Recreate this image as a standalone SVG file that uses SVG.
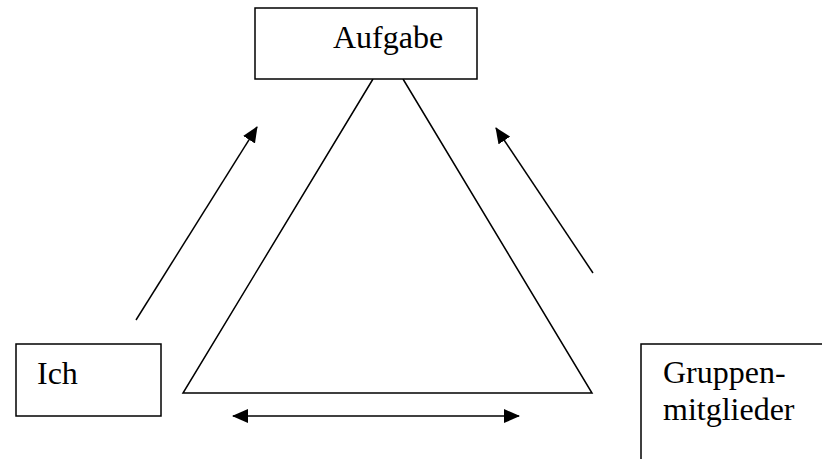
<svg xmlns="http://www.w3.org/2000/svg" width="822" height="459" viewBox="0 0 822 459">
<style>
.box{fill:#fff;stroke:#000;stroke-width:1.5}
.ln{stroke:#000;stroke-width:1.5;fill:none}
.t{font-family:"Liberation Serif","Times New Roman",serif;font-size:32px;fill:#000}
</style>
<defs>
<marker id="ah" viewBox="0 0 10 10" refX="9" refY="5" markerWidth="10" markerHeight="10" markerUnits="userSpaceOnUse" orient="auto-start-reverse">
<path d="M0,0 L10,5 L0,10 z" fill="#000"/>
</marker>
<marker id="ah2" viewBox="0 0 16 14" refX="15" refY="7" markerWidth="16" markerHeight="14" markerUnits="userSpaceOnUse" orient="auto-start-reverse">
<path d="M0,0 L16,7 L0,14 z" fill="#000"/>
</marker>
</defs>
<rect width="822" height="459" fill="#fff"/>
<g id="connectors">
<path class="ln" d="M373,79 L183,393 L592,393 L403,79"/>
<line class="ln" x1="136" y1="320" x2="257" y2="127" marker-end="url(#ah2)"/>
<line class="ln" x1="593" y1="273" x2="496" y2="128" marker-end="url(#ah2)"/>
<line class="ln" x1="233" y1="416" x2="519" y2="416" marker-start="url(#ah2)" marker-end="url(#ah2)"/>
</g>
<g id="aufgabe">
<rect class="box" x="255" y="8" width="222" height="71"/>
<text class="t" x="333" y="48">Aufgabe</text>
</g>
<g id="ich">
<rect class="box" x="16" y="344" width="145" height="72"/>
<text class="t" x="37" y="384">Ich</text>
</g>
<g id="gruppenmitglieder">
<rect class="box" x="641" y="344" width="200" height="130"/>
<text class="t" x="663" y="383">Gruppen-</text>
<text class="t" x="663" y="420">mitglieder</text>
</g>
</svg>
